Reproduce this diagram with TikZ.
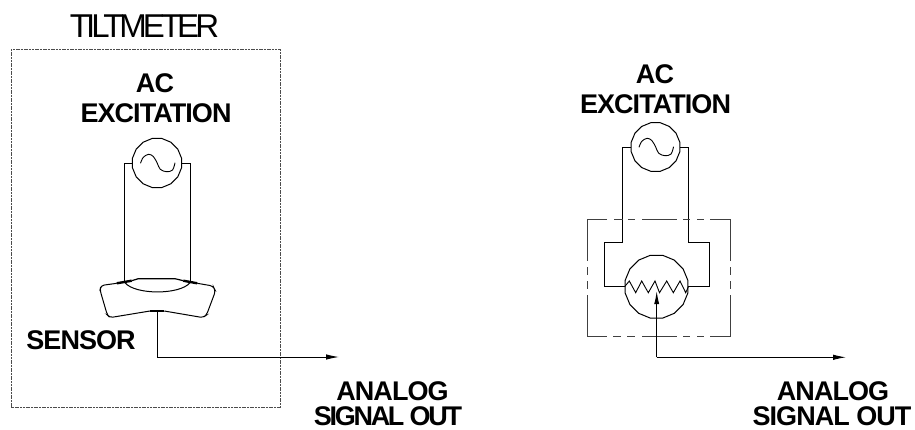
\documentclass[tikz,border=0pt]{standalone}
\usepackage{fontspec}
\setmainfont{Liberation Sans}
\newfontfamily\titlefont[LetterSpace=-12]{Liberation Sans}
\newfontfamily\labelfont[LetterSpace=-3.5]{Liberation Sans}
\newfontfamily\tightfont[LetterSpace=-8.5]{Liberation Sans}
\usetikzlibrary{arrows.meta,shapes.geometric}
\tikzset{
  wire/.style={line width=1pt,black,line join=miter},
  outarrow/.style={wire,-{Latex[length=13pt,width=5.5pt]}},
  dial/.style={draw,line width=1pt,regular polygon,regular polygon sides=16,inner sep=0pt},
  lab/.style={anchor=base,inner sep=0pt,font=\labelfont\bfseries\fontsize{27}{27}\selectfont},
  tightlab/.style={anchor=base,inner sep=0pt,font=\tightfont\bfseries\fontsize{27}{27}\selectfont},
  frame/.style={line width=1pt,black!70,dash pattern=on 2pt off 0.7pt},
  dashline/.style={line width=1.1pt,black!75},
}
\newcommand{\sinewave}[2]{%
  \draw[line width=.9pt,shift={(#1,#2)}] plot[smooth,tension=.6] coordinates
   {(-16.5,.3) (-13.7,-5.7) (-8.3,-8.7) (-3.5,-6.3) (.3,.3) (3.3,6.3) (9.5,8.7) (15.5,7) (18,-.3)};}
\begin{document}
\begin{tikzpicture}[x=1pt,y=-1pt]
\useasboundingbox (0,0) rectangle (915,429);
% ---------- left
\node[anchor=base,inner sep=0pt,font=\titlefont\fontsize{33}{33}\selectfont] (title) at (144.5,37) {TILTMETER};
\node[lab] (acl) at (155,92) {AC};
\node[lab] (exl) at (156,122) {EXCITATION};
\node[lab] (sensor) at (81,349) {SENSOR};
\node[lab] (anl) at (392.5,400) {ANALOG};
\node[tightlab] (sgl) at (388,425) {SIGNAL OUT};
\draw[frame] (11,49) rectangle (280,407);
\node[dial,minimum size=50pt] (srcl) at (157,163) {};
\sinewave{157}{163}
\coordinate (sl) at (124,282);
\coordinate (sr) at (190,282);
\draw[wire] (srcl.west) -- (124,163) -- (sl);
\draw[wire] (srcl.east) -- (190,163) -- (sr);
% sensor body
\draw[line width=1pt,rounded corners=3pt] (116.7,283.3) -- (101,285.5) -- (100,290) -- (107.3,315) -- (110,317.6)
   -- (150,311) (164.3,311) -- (203,317.6) -- (206.5,315) -- (215.5,291) -- (213,286) -- (197.3,283.3);
\draw[line width=2.4pt] (116.7,283.3) -- (131.7,280.7);
\draw[line width=2.4pt] (183.3,280.7) -- (197.3,283.3);
\draw[line width=2.4pt] (150,311) -- (164.3,311);
\draw[line width=1.2pt] (131.7,280.7) -- (138.3,278.7) -- (175,278.7) -- (183.3,280.7);
\draw[line width=1pt] (125,282.7) .. controls (135,295) and (180,295) .. (190,282.7);
\coordinate (tapl) at (157,311);
\coordinate (endl) at (339,357);
\draw[outarrow] (tapl) -- (157,357) -- (endl);
% ---------- right
\node[lab] (acr) at (655,83) {AC};
\node[lab] (exr) at (655.5,113) {EXCITATION};
\node[lab] (anr) at (833,400) {ANALOG};
\node[lab] (sgr) at (832,425) {SIGNAL OUT};
\node[dial,minimum size=49.5pt] (srcr) at (655.5,147) {};
\sinewave{655.5}{147}
\node[dial,minimum size=64pt] (res) at (656.5,286.7) {};
\draw[wire] (srcr.west) -- (622.3,147) -- (622.3,242.7) -- (604.3,242.7) -- (604.3,286.7) -- (res.west);
\draw[wire] (srcr.east) -- (688.7,147) -- (688.7,242.7) -- (709.3,242.7) -- (709.3,286.7) -- (res.east);
\draw[line width=.9pt] (res.west) -- (629.3,281) -- (635.7,292.7) -- (641.7,281) -- (648.3,292.7) -- (655,281)
   -- (659.5,292.7) -- (666.7,281) -- (673.3,292.7) -- (680,281) -- (685.7,292.7) -- (res.east);
% dashed enclosure
\draw[dashline] (607,219.7) -- (587.3,219.7) -- (587.3,261);
\draw[dashline] (614,219.7) -- (623,219.7) (628,219.7) -- (635,219.7) (642,219.7) -- (677,219.7) (683,219.7) -- (690,219.7) (697,219.7) -- (704,219.7);
\draw[dashline] (710,219.7) -- (730.3,219.7) -- (730.3,261);
\draw[dashline] (587.3,267) -- (587.3,275) (587.3,281) -- (587.3,289);
\draw[dashline] (730.3,267) -- (730.3,275) (730.3,281) -- (730.3,289);
\draw[dashline] (587.3,295) -- (587.3,336.7) -- (607,336.7);
\draw[dashline] (730.3,295) -- (730.3,336.7) -- (710,336.7);
\draw[dashline] (613,336.7) -- (621,336.7) (627,336.7) -- (635,336.7) (642,336.7) -- (677,336.7) (683,336.7) -- (690,336.7) (697,336.7) -- (704,336.7);
% output
\coordinate (tipr) at (656.7,291);
\coordinate (endr) at (846,357.3);
\draw[wire,-{Latex[length=13pt,width=5pt]}] (656.7,357.3) -- (tipr);
\draw[outarrow] (656.7,357.3) -- (endr);
\end{tikzpicture}
\end{document}
